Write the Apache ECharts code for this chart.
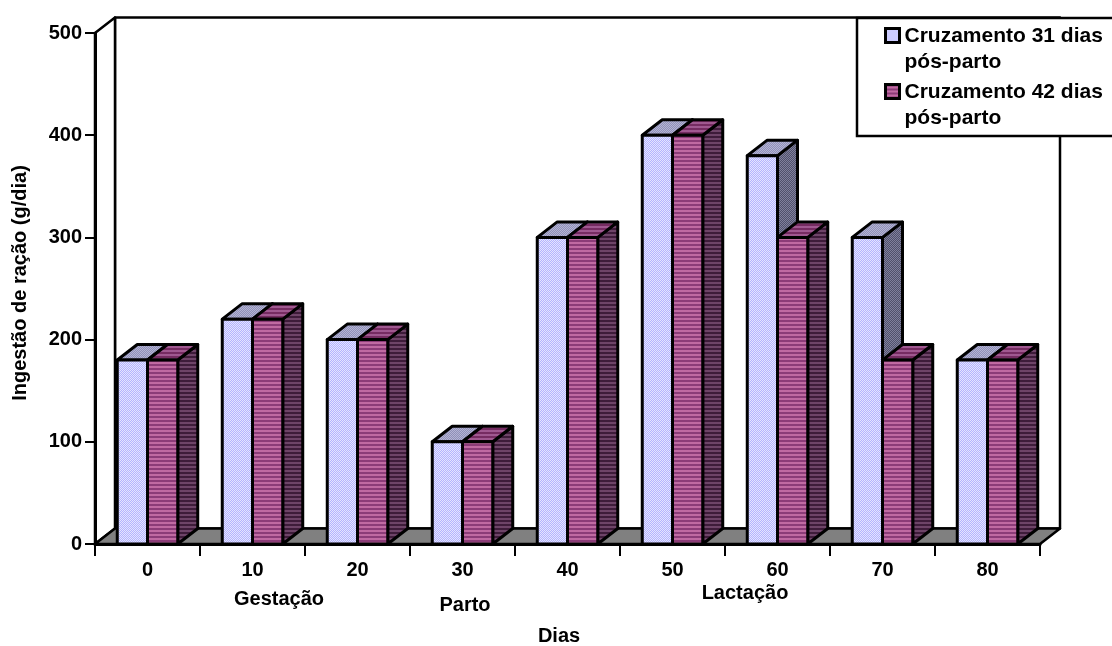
<!DOCTYPE html>
<html>
<head>
<meta charset="utf-8">
<style>html,body{margin:0;padding:0;background:#fff}#c{width:1112px;height:646px}</style>
<script src="https://cdn.jsdelivr.net/npm/echarts@6/dist/echarts.min.js"></script>
</head>
<body>
<div id="c"></div>
<script>
const categories = ['0','10','20','30','40','50','60','70','80'];
const series31 = [180,220,200,100,300,400,380,300,180];
const series42 = [180,220,200,100,300,400,300,180,180];
const name31 = 'Cruzamento 31 dias\npós-parto';
const name42 = 'Cruzamento 42 dias\npós-parto';
const yTitle = 'Ingestão de ração (g/dia)';
const xTitle = 'Dias';
const phases = ['Gestação','Parto','Lactação'];

const FONT = '"Liberation Sans", Arial, sans-serif';
const DX = 20, DY = -15.5, LW = 2.5, BAR_LW = 3;

function diag(c1, c2){
  const k = document.createElement('canvas'); k.width = 4; k.height = 4;
  const g = k.getContext('2d');
  g.fillStyle = c1; g.fillRect(0,0,4,4);
  g.fillStyle = c2;
  for (let i=0;i<4;i++){ g.fillRect(i,(3-i),1,1); g.fillRect(i,(5-i)%4,1,1); }
  return {image:k, repeat:'repeat'};
}
function stripes(c1, c2){
  const k = document.createElement('canvas'); k.width = 4; k.height = 4;
  const g = k.getContext('2d');
  g.fillStyle = c1; g.fillRect(0,0,4,4);
  g.fillStyle = c2; g.fillRect(0,0,4,2);
  return {image:k, repeat:'repeat'};
}
const light = {face:diag('#e4e4ff','#b4b4ff'), top:diag('#b4b4d4','#9090b8'), side:diag('#80809c','#50506c')};
const pink  = {face:stripes('#c06aa2','#8c3c78'), top:stripes('#a05890','#762c62'), side:stripes('#6e4468','#3e1c3a')};

function barRenderer(sign, pal){
  return function(params, api){
    const idx = api.value(0), val = api.value(1);
    const p = api.coord([idx, val]);
    const base = api.coord([idx, 0]);
    const w = api.size([1,0])[0] * 0.288;
    const x0 = sign < 0 ? p[0] - w : p[0];
    const x1 = x0 + w, yt = p[1], yb = base[1];
    const st = (fill) => ({fill:fill, stroke:'#000', lineWidth:BAR_LW, lineJoin:'round'});
    return {type:'group', children:[
      {type:'polygon', shape:{points:[[x1,yb],[x1+DX,yb+DY],[x1+DX,yt+DY],[x1,yt]]}, style:st(pal.side)},
      {type:'polygon', shape:{points:[[x0,yt],[x0+DX,yt+DY],[x1+DX,yt+DY],[x1,yt]]}, style:st(pal.top)},
      {type:'polygon', shape:{points:[[x0,yt],[x1,yt],[x1,yb],[x0,yb]]}, style:st(pal.face)}
    ]};
  };
}
function wallRenderer(params, api){
  const c = params.coordSys;
  const L = c.x, R = c.x + c.width, T = c.y, B = c.y + c.height;
  const st = (fill) => ({fill:fill, stroke:'#000', lineWidth:LW, lineJoin:'round'});
  return {type:'group', children:[
    {type:'polygon', shape:{points:[[L+DX,T+DY],[R+DX,T+DY],[R+DX,B+DY],[L+DX,B+DY]]}, style:st('#fff')},
    {type:'polygon', shape:{points:[[L,T],[L+DX,T+DY],[L+DX,B+DY],[L,B]]}, style:st('#fff')},
    {type:'polygon', shape:{points:[[L,B],[L+DX,B+DY],[R+DX,B+DY],[R,B]]}, style:st('#808080')}
  ]};
}

const legendIcon = 'path://M0,0H14V14H0Z M0,41L0,41';
const chart = echarts.init(document.getElementById('c'), null, {renderer:'canvas'});
const txt = (text,x,y,rot) => ({type:'text', x:x, y:y, rotation:rot||0, z:20,
  style:{text:text, font:'bold 20px '+FONT, fill:'#000', align:'center', verticalAlign:'middle'}});
chart.setOption({
  animation:false,
  backgroundColor:'#fff',
  grid:{left:95, top:33, width:945, height:511, containLabel:false},
  xAxis:{type:'category', data:categories, z:5,
    axisLine:{lineStyle:{color:'#000',width:3}},
    axisTick:{show:true, alignWithLabel:false, length:12, lineStyle:{color:'#000',width:2}},
    axisLabel:{color:'#000', fontFamily:FONT, fontWeight:'bold', fontSize:20, margin:16, interval:0},
    splitLine:{show:false}},
  yAxis:{type:'value', min:0, max:500, interval:100, z:5,
    axisLine:{show:true, lineStyle:{color:'#000',width:3}},
    axisTick:{show:true, length:10, lineStyle:{color:'#000',width:2}},
    axisLabel:{color:'#000', fontFamily:FONT, fontWeight:'bold', fontSize:20, margin:13},
    splitLine:{show:false}},
  legend:{left:857, top:18, orient:'vertical', selectedMode:false, z:10,
    padding:[5,120,5,27], itemGap:4, itemWidth:14, itemHeight:41, itemSymbolKeepAspect:true,
    backgroundColor:'#fff', borderColor:'#000', borderWidth:2.5,
    textStyle:{color:'#000', fontFamily:FONT, fontWeight:'bold', fontSize:21, lineHeight:26},
    data:[
      {name:name31, icon:legendIcon, itemStyle:{color:light.face, borderColor:'#000', borderWidth:3}},
      {name:name42, icon:legendIcon, itemStyle:{color:pink.face, borderColor:'#000', borderWidth:3}}
    ]},
  graphic:[
    txt(yTitle,20,283,Math.PI/2),
    txt(xTitle,559,636),
    txt(phases[0],279,599),
    txt(phases[1],465,605),
    txt(phases[2],745,593)
  ],
  series:[
    {type:'custom', name:'_wall', silent:true, z:1, renderItem:wallRenderer, data:[[0,0]], encode:{x:0,y:1}, clip:false},
    {type:'custom', name:name31, silent:true, z:2, renderItem:barRenderer(-1,light), itemStyle:{color:light.face},
      encode:{x:0,y:1}, clip:false, data:series31.map((v,i)=>[i,v])},
    {type:'custom', name:name42, silent:true, z:3, renderItem:barRenderer(1,pink), itemStyle:{color:pink.face},
      encode:{x:0,y:1}, clip:false, data:series42.map((v,i)=>[i,v])}
  ]
});
</script>
</body>
</html>
